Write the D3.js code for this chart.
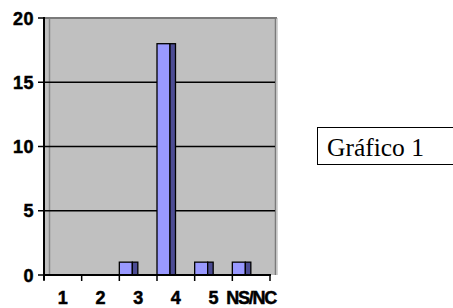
<!DOCTYPE html>
<html><head><meta charset="utf-8">
<script src="https://cdn.jsdelivr.net/npm/d3@7"></script>
<style>html,body{margin:0;padding:0;background:#fff;}svg{display:block;}
.lab{font-family:Arial,"Liberation Sans",sans-serif;font-weight:bold;font-size:18px;stroke:#000;stroke-width:0.5px;}
.box{font-family:"Times New Roman","Liberation Serif",serif;font-size:25.5px;}
</style>
</head><body>
<svg id="c" width="453" height="308"></svg>
<script>
const categories = ["1","2","3","4","5","NS/NC"];
const values = [0,0,1,18,1,1];
const yTicks = [0,5,10,15,20];
const boxLabel = "Gráfico 1";

const svg = d3.select("#c");
const x = d3.scaleBand().domain(categories).range([44,270]).paddingInner(0).paddingOuter(0);
const y = d3.scaleLinear().domain([0,20]).range([275,18]);

// wall
svg.append("rect").attr("x",44).attr("y",17).attr("width",232).attr("height",258).attr("fill","#C0C0C0");
svg.append("line").attr("x1",44).attr("x2",277).attr("y1",18).attr("y2",18).attr("stroke","#7a7a7a").attr("stroke-width",2);
svg.append("line").attr("x1",275.5).attr("x2",275.5).attr("y1",17).attr("y2",275).attr("stroke","#7a7a7a").attr("stroke-width",1.5);
svg.append("line").attr("x1",277).attr("x2",277).attr("y1",18).attr("y2",275).attr("stroke","#a8a8a8").attr("stroke-width",1);
svg.append("line").attr("x1",49.5).attr("x2",49.5).attr("y1",19).attr("y2",275).attr("stroke","#8a8a8a").attr("stroke-width",1.5);

// gridlines
svg.append("g").selectAll("line").data(yTicks.filter(d=>d>0 && d<20)).join("line")
  .attr("x1",44).attr("x2",275).attr("y1",d=>y(d)).attr("y2",d=>y(d))
  .attr("stroke","#000").attr("stroke-width",1.5);

// bars
const bw = x.bandwidth();
const frontW = 13, sideW = 5.5;
const bars = svg.append("g").selectAll("g").data(categories.map((c,i)=>({c,v:values[i]})).filter(d=>d.v>0)).join("g");
bars.append("rect").attr("x",d=>x(d.c)).attr("y",d=>y(d.v)).attr("width",frontW).attr("height",d=>y(0)-y(d.v))
  .attr("fill","#9999FF").attr("stroke","#000").attr("stroke-width",1.3);
bars.append("rect").attr("x",d=>x(d.c)+frontW).attr("y",d=>y(d.v)).attr("width",sideW).attr("height",d=>y(0)-y(d.v))
  .attr("fill","#4C4C94").attr("stroke","#000").attr("stroke-width",1.3);

// y axis
const ya = svg.append("g");
ya.append("line").attr("x1",44).attr("x2",44).attr("y1",17).attr("y2",280).attr("stroke","#000").attr("stroke-width",2);
ya.selectAll("line.t").data(yTicks).join("line").attr("class","t")
  .attr("x1",38).attr("x2",44).attr("y1",d=>y(d)).attr("y2",d=>y(d)).attr("stroke","#000").attr("stroke-width",1.5);
ya.selectAll("text").data(yTicks).join("text").attr("class","lab")
  .attr("x",34).attr("y",d=>y(d)+6.5).attr("text-anchor","end")
  .attr("letter-spacing",0.5)
  .text(d=>d);

// x axis
const xa = svg.append("g");
xa.append("line").attr("x1",44).attr("x2",271).attr("y1",275).attr("y2",275).attr("stroke","#000").attr("stroke-width",2);
const bounds = categories.map(c=>x(c)).concat([x.range()[1]]);
xa.selectAll("line.t").data(bounds).join("line").attr("class","t")
  .attr("x1",d=>d).attr("x2",d=>d).attr("y1",275).attr("y2",281).attr("stroke","#000").attr("stroke-width",1.5);
xa.selectAll("text").data(categories).join("text").attr("class","lab")
  .attr("x",d=>x(d)+bw/2).attr("y",304).attr("text-anchor","middle")
  .attr("letter-spacing",d=>d.length>1?-1.2:0)
  .text(d=>d);

// label box
svg.append("rect").attr("x",317.5).attr("y",127.5).attr("width",145).attr("height",37).attr("fill","#fff").attr("stroke","#000").attr("stroke-width",1);
svg.append("text").attr("class","box").attr("x",327).attr("y",156).text(boxLabel);
</script>
</body></html>
